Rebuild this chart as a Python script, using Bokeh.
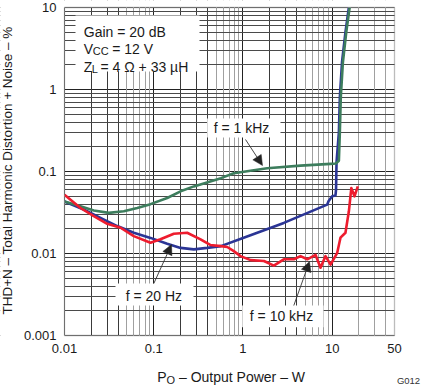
import math
from bokeh.plotting import figure
from bokeh.models import (FixedTicker, Grid, Label, BoxAnnotation, Arrow,
                          NormalHead, CustomJSTickFormatter, Range1d)
from bokeh.embed import file_html
from bokeh.resources import INLINE

# ---------------- data ----------------
# f = 1 kHz (green)
p_1khz = [0.01, 0.0151, 0.0213, 0.0314, 0.0462, 0.0654, 0.092, 0.1416, 0.2, 0.282,
          0.566, 0.79, 1.87, 4.42, 9.6, 11.0, 11.9, 12.2, 12.5, 13.2, 14.4, 15.7, 16.0]
thd_1khz = [0.043, 0.0377, 0.0334, 0.0313, 0.0327, 0.0359, 0.040, 0.0475, 0.0573, 0.0658,
            0.083, 0.0953, 0.1096, 0.118, 0.124, 0.125, 0.135, 0.3, 0.8, 2.15, 5.0, 10.0, 11.0]

# f = 20 Hz (blue)
p_20hz = [0.01, 0.0164, 0.0253, 0.039, 0.0598, 0.092, 0.1416, 0.2, 0.282, 0.398, 0.566,
          1.02, 2.87, 8.8, 9.1, 10.0, 10.9, 11.06, 11.2, 11.9, 12.2, 12.9, 14.1, 15.4, 15.7]
thd_20hz = [0.043, 0.0344, 0.0272, 0.0216, 0.0179, 0.0155, 0.01315, 0.0117, 0.01124, 0.0117, 0.0123,
            0.0156, 0.0236, 0.0394, 0.0433, 0.0498, 0.051, 0.06, 0.13, 0.3, 0.8, 2.15, 5.0, 10.0, 11.0]

# f = 10 kHz (red)
p_10khz = [0.01, 0.0151, 0.0213, 0.0301, 0.0425, 0.0598, 0.092, 0.119, 0.168, 0.237, 0.335,
           0.43, 0.566, 0.667, 0.79, 0.94, 1.22, 1.72, 2.22, 2.87, 3.72, 4.42, 5.26, 6.52,
           7.41, 8.43, 9.6, 11.4, 12.4, 14.1, 15.4, 16.4, 17.8, 19.4]
thd_10khz = [0.052, 0.0359, 0.0285, 0.023, 0.0206, 0.0163, 0.0135, 0.0149, 0.0174, 0.0179, 0.0149,
             0.0127, 0.0123, 0.012, 0.0107, 0.0093, 0.0083, 0.0081, 0.0071, 0.0085, 0.0085, 0.0093,
             0.0085, 0.0096, 0.0067, 0.0093, 0.0073, 0.0102, 0.0156, 0.0179, 0.0327, 0.0628, 0.0498, 0.0658]

x_ticks = [0.01, 0.1, 1, 10, 50]
y_ticks = [0.001, 0.01, 0.1, 1, 10]

x_grid_major = [0.01, 0.1, 1, 10]
x_grid_dark = [m * d for d in (0.01, 0.1, 1) for m in (2, 3, 4)]
x_grid_light = [m * d for d in (0.01, 0.1, 1) for m in (5, 6, 7, 8, 9)] + [20, 30, 40]
y_grid_major = [0.001, 0.01, 0.1, 1, 10]
y_grid_minor = [m * d for d in (0.001, 0.01, 0.1, 1) for m in range(2, 10)]

# ---------------- layout (pixels) ----------------
W, H = 421, 385
PL, PR, PT, PB = 64, 394, 7, 335          # plot area inside the canvas
X0, X1 = x_ticks[0], x_ticks[-1]
Y0, Y1 = y_ticks[0], y_ticks[-1]
dec_x = (PR - PL) / math.log10(X1 / X0)
dec_y = (PB - PT) / math.log10(Y1 / Y0)
x_start = 10 ** (math.log10(X0) - PL / dec_x)
x_end = 10 ** (math.log10(X1) + (W - PR) / dec_x)
y_start = 10 ** (math.log10(Y0) - (H - PB) / dec_y)
y_end = 10 ** (math.log10(Y1) + PT / dec_y)


def at(px, py):
    """canvas pixel -> data coordinate (for annotation placement)"""
    return (10 ** (math.log10(X0) + (px - PL) / dec_x),
            10 ** (math.log10(Y1) - (py - PT) / dec_y))


FONT = "Liberation Sans"
TXT = "#1a1a1a"

p = figure(width=W, height=H, x_axis_type="log", y_axis_type="log",
           x_range=Range1d(x_start, x_end), y_range=Range1d(y_start, y_end),
           output_backend="svg", toolbar_location=None,
           min_border_left=0, min_border_right=0, min_border_top=0, min_border_bottom=0)
p.background_fill_color = "white"
p.border_fill_color = "white"
p.outline_line_color = None

for ax, ticks, loc in ((p.xaxis[0], x_ticks, Y0), (p.yaxis[0], y_ticks, X0)):
    ax.fixed_location = loc
    ax.level = "overlay"
    ax.ticker = FixedTicker(ticks=ticks, minor_ticks=[])
    ax.formatter = CustomJSTickFormatter(code="return tick.toString();")
    ax.major_tick_in = 0
    ax.major_tick_out = 0
    ax.minor_tick_in = 0
    ax.minor_tick_out = 0
    ax.axis_line_color = None
    ax.major_label_text_font = FONT
    ax.major_label_text_font_size = "13px"
    ax.major_label_text_color = TXT
    ax.major_label_standoff = 8

p.xgrid.ticker = FixedTicker(ticks=x_grid_major)
p.ygrid.ticker = FixedTicker(ticks=y_grid_major)
p.xgrid.grid_line_color = "#222222"
p.ygrid.grid_line_color = "#222222"
p.xgrid.grid_line_width = 1
p.ygrid.grid_line_width = 1

p.add_layout(Grid(dimension=0, ticker=FixedTicker(ticks=x_grid_light),
                  grid_line_color="#a0a0a0", grid_line_width=1))
p.add_layout(Grid(dimension=0, ticker=FixedTicker(ticks=x_grid_dark),
                  grid_line_color="#3a3a3a", grid_line_width=1))
p.add_layout(Grid(dimension=1, ticker=FixedTicker(ticks=y_grid_minor),
                  grid_line_color="#4a4a4a", grid_line_width=1))

# curves
p.line(p_20hz, thd_20hz, line_color="#2b3595", line_width=2.6, line_join="round")
p.line(p_1khz, thd_1khz, line_color="#3d7d5d", line_width=2.6, line_join="round")
p.line(p_10khz, thd_10khz, line_color="#ee1c2e", line_width=2.6, line_join="round")

# white masks outside the plot area
for kw in (dict(right=X0), dict(left=X1), dict(top=Y0), dict(bottom=Y1)):
    p.add_layout(BoxAnnotation(fill_color="white", fill_alpha=1.0, line_color=None, **kw))

# plot-area border
p.add_layout(BoxAnnotation(left=X0, right=X1, bottom=Y0, top=Y1, fill_alpha=0,
                           line_color="#222222", line_width=1.3, level="overlay"))


def box(x0, y0, x1, y1):
    (l, t), (r, b) = at(x0, y0), at(x1, y1)
    p.add_layout(BoxAnnotation(left=l, right=r, bottom=b, top=t,
                               fill_color="white", fill_alpha=1.0, line_color=None))


def txt(px, py, text, size="14px", dx=0, dy=0, align="left", baseline="alphabetic",
        angle=0.0, color=TXT):
    x, y = at(px, py)
    p.add_layout(Label(x=x, y=y, text=text, x_offset=dx, y_offset=dy,
                       text_font=FONT, text_font_size=size, text_color=color,
                       text_align=align, text_baseline=baseline, angle=angle,
                       level="overlay"))


def arrow(px0, py0, px1, py1):
    (xs, ys), (xe, ye) = at(px0, py0), at(px1, py1)
    p.add_layout(Arrow(x_start=xs, y_start=ys, x_end=xe, y_end=ye,
                       line_color="#333333", line_width=0.9, level="overlay",
                       end=NormalHead(size=10, fill_color="#222222", line_color="#222222",
                                      line_width=0.5)))


# white boxes behind annotation texts
box(75, 15, 199, 71)
box(206.7, 118, 280, 137)
box(115, 283, 193, 305)
box(241.7, 305, 323, 326.7)

# condition block
txt(83.3, 31.7, "Gain = 20 dB")
txt(83.3, 48.3, "V")
txt(83.3, 48.3, "CC", size="11px", dx=9.0, dy=-2.5)
txt(83.3, 48.3, "= 12 V", dx=28.4)
txt(83.3, 66.0, "Z")
txt(83.3, 66.0, "L", size="11px", dx=8.0, dy=-2.5)
txt(83.3, 66.0, "= 4 Ω + 33 µH", dx=16.7)

# curve labels and arrows
txt(241, 127.5, "f = 1 kHz", align="center", baseline="middle")
txt(153.4, 295, "f = 20 Hz", align="center", baseline="middle")
txt(281, 315.7, "f = 10 kHz", align="center", baseline="middle")
arrow(245, 139, 262, 165)
arrow(153.3, 283, 171, 244)
arrow(293.3, 305, 309, 261)

# axis titles
txt(156.7, 376.7, "P")
txt(156.7, 376.7, "O", size="11px", dx=9.3, dy=-2.3)
txt(156.7, 376.7, "– Output Power – W", dx=21.8)
txt(6.5, 170, "THD+N – Total Harmonic Distortion + Noise – %", size="13.5px",
    align="center", baseline="middle", angle=math.pi / 2)
txt(408, 380, "G012", size="9.5px", align="center", baseline="middle", color="#333333")

open("out.html", "w").write(file_html(p, INLINE))
